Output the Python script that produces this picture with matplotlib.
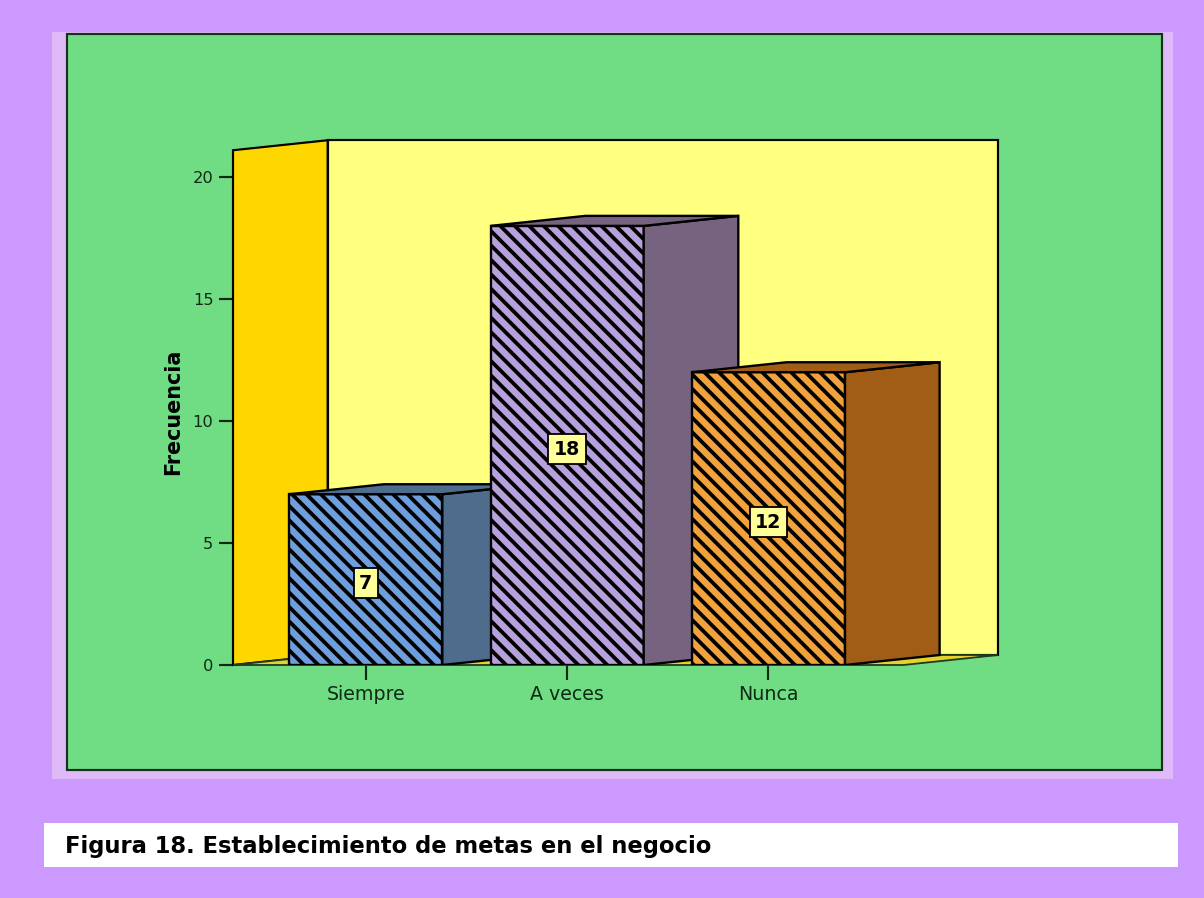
import matplotlib
matplotlib.use('Agg')
import matplotlib.pyplot as plt
from matplotlib.patches import Rectangle, Polygon

# Survey counts
categories = ['Siempre', 'A veces', 'Nunca']
counts = [7, 18, 12]
y_ticks = [0, 5, 10, 15, 20]
caption = 'Figura 18. Establecimiento de metas en el negocio'

front_colors = ['#6E9EDC', '#B6A1DD', '#F2A23C']
side_colors = ['#4E6D8D', '#76637F', '#A15D15']

W, H, DPI = 1204, 898, 130
plt.rcParams['font.family'] = 'DejaVu Sans'
plt.rcParams['hatch.linewidth'] = 2.1


def fig_rect(left, top, right, bottom):
    # pixel box (from top-left) -> figure fraction rect
    return [left / W, 1 - bottom / H, (right - left) / W, (bottom - top) / H]


fig = plt.figure(figsize=(W / DPI, H / DPI), dpi=DPI)
fig.patch.set_facecolor('#CC99FF')

# light frame, green panel and caption strip
for box, fc, ec, lw in [((52, 32, 1173, 779), '#E0B9F8', 'none', 0),
                        ((67, 34, 1162, 770), '#70DD85', '#15301C', 1.2),
                        ((44, 823, 1178, 867), 'white', 'none', 0)]:
    x, y, w, h = fig_rect(*box)
    fig.add_artist(Rectangle((x, y), w, h, transform=fig.transFigure,
                             facecolor=fc, edgecolor=ec, linewidth=lw, zorder=-5))

fig.text(65 / W, 1 - 846 / H, caption, fontsize=12.5, fontweight='bold',
         color='black', va='center', ha='left')

ax = fig.add_axes(fig_rect(233, 140, 998, 665))
ax.set_zorder(5)
ax.set_facecolor('none')
for s in ax.spines.values():
    s.set_visible(False)

x_left, x_right = -0.66, 3.14
depth_x, depth_y = 0.47, 0.41
wall_top = 21.1
bar_w = 0.76
ax.set_xlim(x_left, x_right)
ax.set_ylim(0, 21.52)

# back wall, side wall and floor
ax.add_patch(Polygon([(x_left + depth_x, depth_y), (x_left + depth_x, wall_top + depth_y),
                      (x_right, wall_top + depth_y), (x_right, depth_y)],
                     facecolor='#FFFF80', edgecolor='black', linewidth=1.2, zorder=1,
                     clip_on=False))
ax.add_patch(Polygon([(x_left, 0), (x_left, wall_top), (x_left + depth_x, wall_top + depth_y),
                      (x_left + depth_x, depth_y)],
                     facecolor='#FFD700', edgecolor='black', linewidth=1.2, zorder=2,
                     clip_on=False))
ax.add_patch(Polygon([(x_left, 0), (x_left + depth_x, depth_y), (x_right, depth_y),
                      (x_right - depth_x, 0)],
                     facecolor='#E6D22A', edgecolor='#1E3A20', linewidth=1.0, zorder=2,
                     clip_on=False))

# 3D bars, drawn left to right so each front face covers the previous side
for i, (cat, v) in enumerate(zip(categories, counts)):
    z = 3 + 3 * i
    x0, x1 = i - bar_w / 2, i + bar_w / 2
    ax.bar(i, v, width=bar_w, color=front_colors[i], edgecolor='black',
           hatch='\\\\\\', linewidth=1.3, zorder=z)
    ax.add_patch(Polygon([(x1, 0), (x1, v), (x1 + depth_x, v + depth_y), (x1 + depth_x, depth_y)],
                         facecolor=side_colors[i], edgecolor='black', linewidth=1.3, zorder=z + 1))
    ax.add_patch(Polygon([(x0, v), (x0 + depth_x, v + depth_y), (x1 + depth_x, v + depth_y), (x1, v)],
                         facecolor=side_colors[i], edgecolor='black', linewidth=1.3, zorder=z + 1))
    ax.text(i, v / 2 - 0.15, str(v), ha='center', va='center', fontsize=10.5,
            fontweight='bold', color='black', zorder=20,
            bbox=dict(boxstyle='square,pad=0.3', facecolor='#FFFF99',
                      edgecolor='black', linewidth=1.0))

ax.set_xticks(range(len(categories)))
ax.set_xticklabels(categories)
ax.set_yticks(y_ticks)
ax.tick_params(axis='x', length=8.3, width=1.2, pad=3, labelsize=10.5,
               colors='#0F2A14', direction='out')
ax.tick_params(axis='y', length=7.8, width=1.2, pad=3, labelsize=9,
               colors='#0F2A14', direction='out')

ax.set_ylabel('Frecuencia', fontsize=11.5, fontweight='bold', color='black')
ax.yaxis.set_label_coords((183 - 233) / 765, (665 - 412) / 525)

fig.savefig('out.png', dpi=DPI, facecolor=fig.get_facecolor())
